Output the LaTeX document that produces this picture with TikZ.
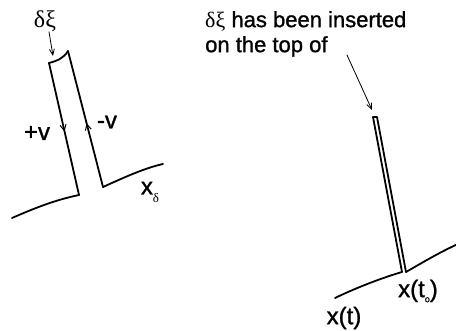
\documentclass[tikz,border=0pt]{standalone}
\usepackage{fontspec}
\setmainfont[FakeBold=1.2,BoldFont={Liberation Sans}]{Liberation Sans}
\newfontfamily\grk{Liberation Serif}
\usetikzlibrary{arrows.meta,decorations.markings}
\begin{document}
\begin{tikzpicture}[x=1pt,y=-1pt, line cap=round, line join=round,
  stroke/.style={line width=1.8pt},
  thinarrow/.style={line width=0.8pt,-{Straight Barb[length=6pt,width=5pt]}},
  txt/.style={font=\fontsize{22}{25}\selectfont, inner sep=0pt},
  lbl/.style={font=\fontsize{24}{28}\selectfont, inner sep=0pt},
  midarrow/.style={postaction={decorate},decoration={markings,mark=at position #1 with {\arrow{Straight Barb[length=6pt,width=6pt,line width=1pt]}}}}]
\useasboundingbox (0,0) rectangle (456,331);

% left figure
\coordinate (capL) at (49,63);
\coordinate (capR) at (68,51);
\coordinate (footL) at (79,195);
\coordinate (footR) at (103,187);
\coordinate (baseL) at (12,218);
\coordinate (baseR) at (163,164);
\draw[stroke] (capL) .. controls (57,61) and (64,58) .. (capR);
\draw[stroke, midarrow=0.52] (capL) -- (footL);
\draw[stroke, midarrow=0.47] (footR) -- (capR);
\draw[stroke] (footL) .. controls (55,200) and (35,208) .. (baseL);
\draw[stroke] (footR) .. controls (125,177) and (145,168) .. (baseR);

\node[lbl] (dx) at (45,21) {\grk δξ};
\coordinate (capTip) at (53,56);
\draw[thinarrow] ([xshift=4pt]dx.south) -- (capTip);

\node[lbl] (pv) at (37,133) {+v};
\node[lbl] (mv) at (107,122) {-v};
\node[lbl] (xd) at (150,192) {x\raisebox{-0.6ex}{\grk\fontsize{13}{13}\selectfont δ}};

% right figure
\node[txt, anchor=north west, align=left] (note) at (205,11) {{\grk δξ} has been inserted\\on the top of};
\coordinate (noteStart) at (347,55);
\coordinate (noteTip) at (372,110);
\draw[thinarrow] (noteStart) -- (noteTip);

\coordinate (sTL) at (373,117);
\coordinate (sTR) at (377,117);
\coordinate (sBL) at (402,272);
\coordinate (sBR) at (406,272);
\coordinate (cL) at (335,298);
\coordinate (cR) at (458,244);
\draw[stroke] (sBL) -- (sTL) -- (sTR) -- (sBR);
\draw[stroke] (cL) .. controls (360,286) and (385,277) .. (sBL);
\draw[stroke] (sBR) .. controls (420,264) and (440,252) .. (cR);

\node[lbl] (xto) at (418,291) {x(t\raisebox{-0.4ex}{\fontsize{9}{9}\selectfont o})};
\node[lbl] (xt) at (344,318) {x(t)};
\end{tikzpicture}
\end{document}
